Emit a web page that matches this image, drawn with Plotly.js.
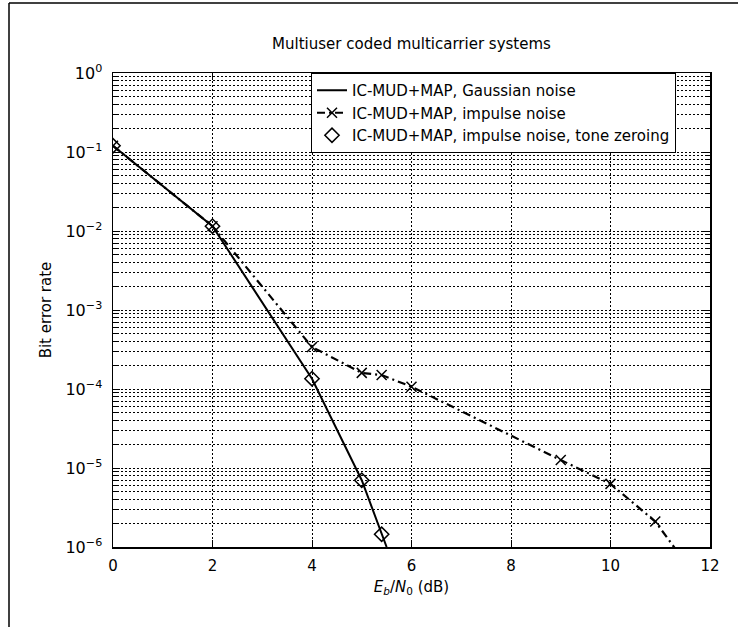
<!DOCTYPE html>
<html>
<head>
<meta charset="utf-8">
<script src="https://cdn.plot.ly/plotly-3.0.1.min.js"></script>
<style>html,body{margin:0;padding:0;background:#fff;}#chart{width:738px;height:627px;}</style>
</head>
<body>
<div id="chart"></div>
<script>
// ---- data ----
const seriesNames = [
  "IC-MUD+MAP, Gaussian noise",
  "IC-MUD+MAP, impulse noise",
  "IC-MUD+MAP, impulse noise, tone zeroing"
];
const ebnoGauss = [0, 2, 4, 5, 5.5];
const berGauss  = [0.12, 0.0115, 1.35e-4, 7.0e-6, 1.0e-6];

const ebnoImpulse = [0, 2, 4, 5, 5.4, 6, 9, 10, 10.9, 12];
const berImpulse  = [0.12, 0.0115, 3.4e-4, 1.6e-4, 1.5e-4, 1.07e-4, 1.26e-5, 6.3e-6, 2.1e-6, 2.4e-7];

const ebnoZero = [0, 2, 4, 5, 5.4];
const berZero  = [0.12, 0.0115, 1.35e-4, 7.0e-6, 1.45e-6];

const xTicks = [0, 2, 4, 6, 8, 10, 12];
const yTickVals = [1, 1e-1, 1e-2, 1e-3, 1e-4, 1e-5, 1e-6];
const yTickText = ["10<sup>0</sup>", "10<sup>−1</sup>", "10<sup>−2</sup>", "10<sup>−3</sup>",
                   "10<sup>−4</sup>", "10<sup>−5</sup>", "10<sup>−6</sup>"];

// minor ticks (2..9 x each decade)
const yMinor = [];
for (let e = -6; e < 0; e++) for (let m = 2; m <= 9; m++) yMinor.push(m * Math.pow(10, e));

const FONT = "DejaVu Sans, sans-serif";

const traces = [
  { x: ebnoGauss, y: berGauss, name: seriesNames[0], mode: "lines",
    line: { color: "#000", width: 2 } },
  { x: ebnoImpulse, y: berImpulse, name: seriesNames[1], mode: "lines+markers",
    line: { color: "#000", width: 2.2, dash: "8px,4px,2px,4px" },
    marker: { symbol: "x-thin-open", size: 10, color: "#000", line: { color: "#000", width: 1.5 } } },
  { x: ebnoZero, y: berZero, name: seriesNames[2], mode: "markers",
    marker: { symbol: "diamond-open", size: 11, color: "#000", line: { color: "#000", width: 1.5 } } }
];

const gridStyle = { showgrid: true, gridcolor: "#000", gridwidth: 1, griddash: "2px,2px" };

const layout = {
  width: 738, height: 627,
  margin: { l: 113, r: 28, t: 73, b: 80 },
  paper_bgcolor: "#fff", plot_bgcolor: "#fff",
  font: { family: FONT, color: "#000", size: 15 },
  title: { text: "Multiuser coded multicarrier systems", font: { family: FONT, size: 15, color: "#000" },
           x: 0.5, xref: "paper", y: 1 - 44 / 627, yref: "container", yanchor: "middle" },
  xaxis: {
    range: [0, 12], tickvals: xTicks, ticktext: xTicks.map(String),
    ticks: "inside", ticklen: 7, tickcolor: "#000", tickwidth: 1,
    showline: true, linecolor: "#000", linewidth: 1.5, mirror: "ticks",
    ...gridStyle, zeroline: false,
    tickfont: { family: FONT, size: 15 }, ticklabelstandoff: 4,
    title: { text: "<i>E</i><sub><i>b</i></sub>/<i>N</i><sub>0</sub> (dB)", font: { family: FONT, size: 15 }, standoff: 8 }
  },
  yaxis: {
    type: "log", range: [-6, 0], tickvals: yTickVals, ticktext: yTickText,
    ticks: "inside", ticklen: 7, tickcolor: "#000", tickwidth: 1,
    showline: true, linecolor: "#000", linewidth: 1.5, mirror: "ticks",
    ...gridStyle, zeroline: false,
    tickfont: { family: FONT, size: 16 }, ticklabelstandoff: 6,
    minor: { tickvals: yMinor, ticks: "inside", ticklen: 4, tickcolor: "#000",
             showgrid: true, gridcolor: "#000", gridwidth: 1, griddash: "2px,2px" },
    title: { text: "Bit error rate", font: { family: FONT, size: 15 }, standoff: 10 }
  },
  showlegend: true,
  legend: {
    x: (311 - 113) / 597, xanchor: "left", y: 1, yanchor: "top",
    bgcolor: "#fff", bordercolor: "#000", borderwidth: 1,
    font: { family: FONT, size: 15, color: "#000" }, itemwidth: 30,
    tracegroupgap: 0
  },
  shapes: [
    { type: "line", xref: "paper", yref: "paper", x0: (9 - 113) / 597, x1: (738 - 113) / 597,
      y0: (547 - 3) / 474, y1: (547 - 3) / 474, line: { color: "#000", width: 1.5 } },
    { type: "line", xref: "paper", yref: "paper", x0: (9 - 113) / 597, x1: (9 - 113) / 597,
      y0: (547 - 3) / 474, y1: (547 - 627) / 474, line: { color: "#000", width: 1.5 } }
  ]
};

Plotly.newPlot("chart", traces, layout, { staticPlot: true, displayModeBar: false });
</script>
</body>
</html>
